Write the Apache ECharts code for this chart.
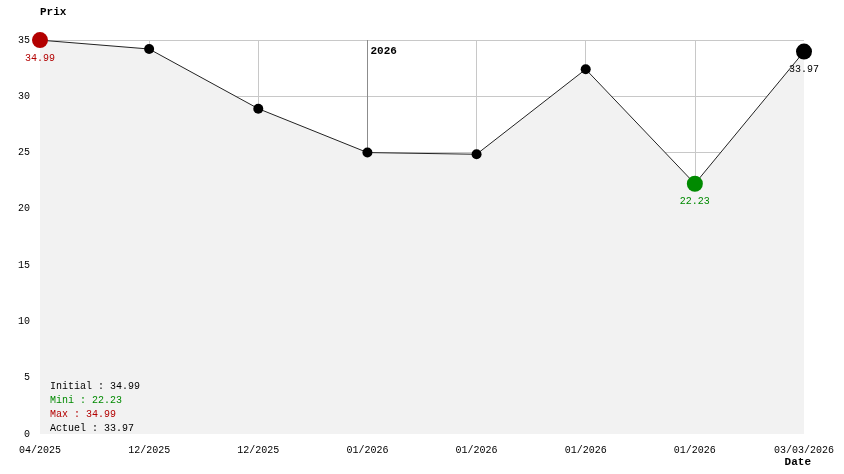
<!DOCTYPE html>
<html>
<head>
<meta charset="utf-8">
<script src="https://cdn.jsdelivr.net/npm/echarts@6/dist/echarts.min.js"></script>
<style>html,body{margin:0;padding:0;background:#fff}#c{width:844px;height:474px}</style>
</head>
<body>
<div id="c"></div>
<script>
const categories = ['04/2025','12/2025','12/2025','01/2026','01/2026','01/2026','01/2026','03/03/2026'];
const prices = [34.99, 34.2, 28.9, 25.0, 24.85, 32.4, 22.23, 33.97];
const yTicks = [0, 5, 10, 15, 20, 25, 30, 35];
const yearMarkIndex = 3;
const yearMarkLabel = '2026';

const FONT = '"Liberation Mono", "DejaVu Sans Mono", monospace';
const RED = '#b30000', GREEN = '#008a00', BLACK = '#000';

const maxV = Math.max(...prices), minV = Math.min(...prices);
const maxI = prices.indexOf(maxV), minI = prices.indexOf(minV), lastI = prices.length - 1;

const data = prices.map((v, i) => {
  const d = { value: v };
  let color = null, size = 10;
  if (i === maxI) { color = RED; size = 16; }
  else if (i === minI) { color = GREEN; size = 16; }
  else if (i === lastI) { color = BLACK; size = 16; }
  if (color) {
    d.symbolSize = size;
    d.itemStyle = { color: color };
    d.label = { show: true, position: 'bottom', distance: 5, color: color, fontFamily: FONT, fontSize: 10,
      formatter: v.toFixed(2) };
  }
  return d;
});

const xGridColors = categories.map((c, i) =>
  (i === 0 || i === categories.length - 1) ? 'rgba(0,0,0,0)' : (i === yearMarkIndex ? '#8c8c8c' : '#c8c8c8'));
const yGridColors = yTicks.map((t, i) => i === 0 ? 'rgba(0,0,0,0)' : '#c8c8c8');

const chart = echarts.init(document.getElementById('c'), null, { renderer: 'canvas' });
chart.setOption({
  animation: false,
  grid: { left: 40, right: 40, top: 40, bottom: 40, containLabel: false },
  xAxis: {
    type: 'category', data: categories, boundaryGap: false,
    axisLine: { show: false }, axisTick: { show: false },
    axisLabel: { margin: 11, color: '#000', fontFamily: FONT, fontSize: 10, interval: 0 },
    splitLine: { show: true, lineStyle: { color: xGridColors, width: 1 } }
  },
  yAxis: {
    type: 'value', min: yTicks[0], max: yTicks[yTicks.length - 1], interval: yTicks[1] - yTicks[0],
    axisLine: { show: false }, axisTick: { show: false },
    axisLabel: { margin: 10, color: '#000', fontFamily: FONT, fontSize: 10 },
    splitLine: { show: true, lineStyle: { color: yGridColors, width: 1 } },
    name: 'Prix', nameLocation: 'end', nameGap: 28,
    nameTextStyle: { fontFamily: FONT, fontSize: 11, fontWeight: 'bold', color: '#000', align: 'left', verticalAlign: 'middle' }
  },
  series: [{
    type: 'line', data: data, clip: false,
    symbol: 'circle', symbolSize: 10, showAllSymbol: true,
    itemStyle: { color: '#000' },
    lineStyle: { color: '#222', width: 1 },
    areaStyle: { color: '#f2f2f2', opacity: 1 },
    z: 2,
    markPoint: {
      symbol: 'circle', symbolSize: 0, silent: true,
      data: [{ coord: [yearMarkIndex, yTicks[yTicks.length - 1]] }],
      label: { show: true, formatter: yearMarkLabel, position: 'right', distance: 3,
        align: 'left', verticalAlign: 'top', offset: [0, 6],
        fontFamily: FONT, fontSize: 11, fontWeight: 'bold', color: '#000' }
    }
  }],
  graphic: [{
    type: 'text', left: 50, top: 379, z: 10,
    style: {
      text: '{k|Initial : ' + prices[0].toFixed(2) + '}\n{g|Mini : ' + minV.toFixed(2) + '}\n{r|Max : ' + maxV.toFixed(2) + '}\n{k|Actuel : ' + prices[lastI].toFixed(2) + '}',
      font: '10px ' + FONT, lineHeight: 14,
      rich: {
        k: { fill: BLACK, fontFamily: FONT, fontSize: 10, lineHeight: 14 },
        g: { fill: GREEN, fontFamily: FONT, fontSize: 10, lineHeight: 14 },
        r: { fill: RED, fontFamily: FONT, fontSize: 10, lineHeight: 14 }
      }
    }
  }, {
    type: 'text', right: 33, bottom: 6, z: 10,
    style: { text: 'Date', font: 'bold 11px ' + FONT, fill: '#000' }
  }]
});
</script>
</body>
</html>
